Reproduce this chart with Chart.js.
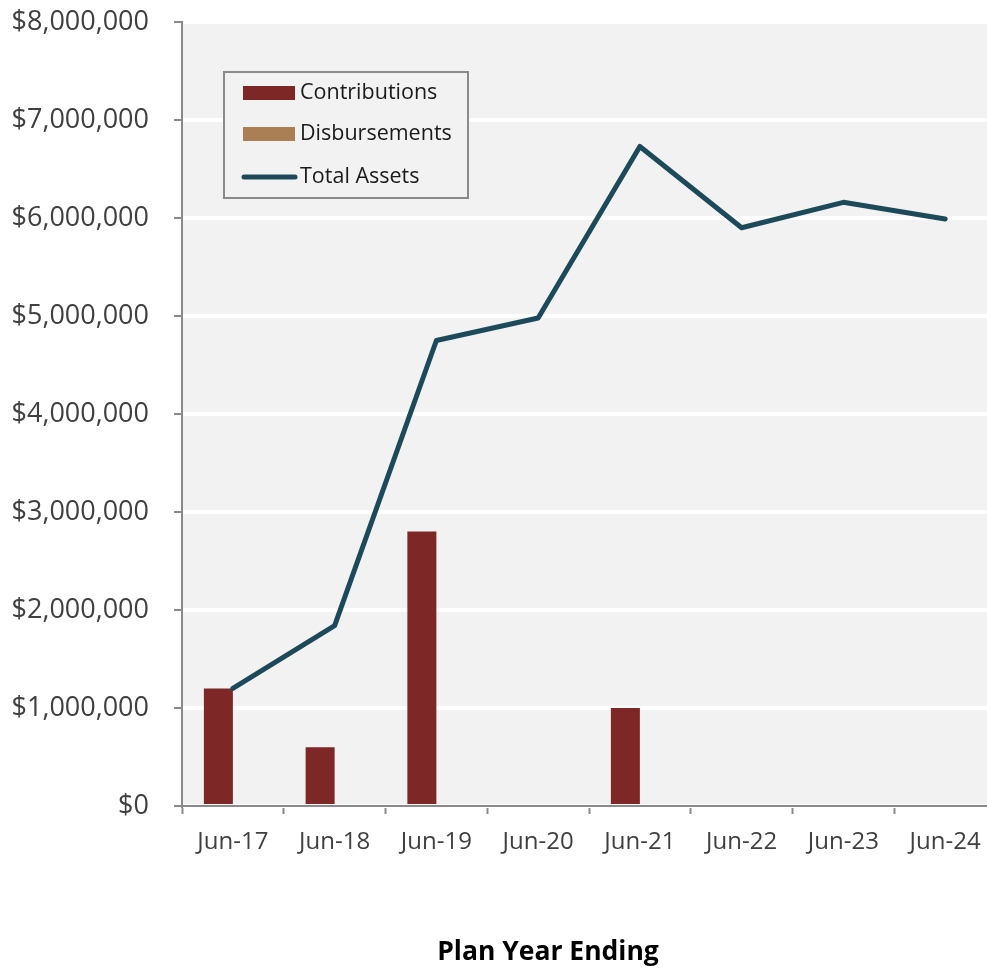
<!DOCTYPE html>
<html>
<head>
<meta charset="utf-8">
<script src="https://cdn.jsdelivr.net/npm/chart.js@4"></script>
<style>
  html, body { margin: 0; padding: 0; background: #ffffff; overflow: hidden; }
  #wrap { width: 1000px; height: 968px; }
</style>
</head>
<body>
<div id="wrap"><canvas id="chart" width="1000" height="968"></canvas></div>
<script>
// Plan year labels
const categories = ['Jun-17', 'Jun-18', 'Jun-19', 'Jun-20', 'Jun-21', 'Jun-22', 'Jun-23', 'Jun-24'];

// Yearly flows and year-end assets (USD)
const contributions = [1200000, 600000, 2800000, 0, 1000000, 0, 0, 0];
const disbursements = [0, 0, 0, 0, 0, 0, 0, 0];
const totalAssets   = [1200000, 1840000, 4750000, 4980000, 6730000, 5900000, 6160000, 5990000];

// Value axis range
const yMin = 0;
const yMax = 8000000;
const yStep = 1000000;

const axisTitle = 'Plan Year Ending';

const FONT = '"Open Sans", "Noto Sans", sans-serif';
const AXIS_GRAY = '#8a8a8a';

function money(v) {
  return '$' + Math.round(v).toLocaleString('en-US');
}

// Fills the plotting area with the light gray panel colour
const panelBackground = {
  id: 'panelBackground',
  beforeDraw(chart) {
    const { ctx, chartArea: a } = chart;
    ctx.save();
    ctx.fillStyle = '#f2f2f2';
    ctx.fillRect(a.left, a.top, a.right - a.left, a.bottom - a.top);
    ctx.restore();
  }
};

// Boxed legend inside the plotting area, plus the bold axis caption below
const boxedLegend = {
  id: 'boxedLegend',
  afterDraw(chart) {
    const { ctx, chartArea: a } = chart;
    const ds = chart.data.datasets;
    const x0 = a.left + 42, y0 = a.top + 50, w = 244, h = 126;
    ctx.save();
    ctx.fillStyle = '#f2f2f2';
    ctx.fillRect(x0, y0, w, h);
    ctx.strokeStyle = '#8a8a8a';
    ctx.lineWidth = 2;
    ctx.strokeRect(x0, y0, w, h);

    ctx.font = '21.5px ' + FONT;
    ctx.textBaseline = 'middle';
    ctx.textAlign = 'left';
    const rows = [y0 + 21, y0 + 62, y0 + 105];
    ds.forEach((d, i) => {
      const cy = rows[i];
      if (d.type === 'line') {
        ctx.strokeStyle = d.borderColor;
        ctx.lineWidth = 5;
        ctx.lineCap = 'round';
        ctx.beginPath();
        ctx.moveTo(x0 + 20, cy);
        ctx.lineTo(x0 + 71, cy);
        ctx.stroke();
      } else {
        ctx.fillStyle = d.backgroundColor;
        ctx.fillRect(x0 + 19, cy - 7, 52, 14);
      }
      ctx.fillStyle = '#1a1a1a';
      ctx.fillText(d.label, x0 + 76, cy);
    });

    ctx.font = 'bold 26.5px ' + FONT;
    ctx.fillStyle = '#000000';
    ctx.textAlign = 'center';
    ctx.textBaseline = 'middle';
    ctx.fillText(axisTitle, a.left + 366, a.bottom + 146);
    ctx.restore();
  }
};

new Chart(document.getElementById('chart'), {
  data: {
    labels: categories,
    datasets: [
      {
        type: 'bar',
        label: 'Contributions',
        data: contributions,
        backgroundColor: '#7d2727',
        borderWidth: 0,
        categoryPercentage: 0.57,
        barPercentage: 1.0,
        order: 2
      },
      {
        type: 'bar',
        label: 'Disbursements',
        data: disbursements,
        backgroundColor: '#ab7f55',
        borderWidth: 0,
        categoryPercentage: 0.57,
        barPercentage: 1.0,
        order: 2
      },
      {
        type: 'line',
        label: 'Total Assets',
        data: totalAssets,
        borderColor: '#1d4a5a',
        backgroundColor: '#1d4a5a',
        borderWidth: 5,
        borderCapStyle: 'round',
        borderJoinStyle: 'round',
        pointRadius: 0,
        tension: 0,
        fill: false,
        order: 1
      }
    ]
  },
  options: {
    responsive: false,
    animation: false,
    layout: { padding: { top: 22, right: 4, left: 0, bottom: 0 } },
    plugins: {
      legend: { display: false },
      tooltip: { enabled: false },
      title: { display: false }
    },
    scales: {
      x: {
        offset: true,
        grid: {
          offset: true,
          drawOnChartArea: false,
          drawTicks: true,
          tickLength: 8,
          tickColor: AXIS_GRAY,
          tickWidth: 2,
          color: AXIS_GRAY
        },
        border: { display: true, color: AXIS_GRAY, width: 2 },
        ticks: {
          color: '#404040',
          font: { family: FONT, size: 24 },
          padding: 14,
          maxRotation: 0,
          autoSkip: false
        },
        afterFit(scale) { scale.height = 162; }
      },
      y: {
        min: yMin,
        max: yMax,
        grid: {
          color: '#ffffff',
          lineWidth: 4,
          drawTicks: true,
          tickLength: 8,
          tickColor: AXIS_GRAY,
          tickWidth: 2
        },
        border: { display: true, color: AXIS_GRAY, width: 2 },
        ticks: {
          stepSize: yStep,
          color: '#404040',
          font: { family: FONT, size: 27 },
          padding: 25,
          callback: (v) => money(v)
        },
        afterFit(scale) {
          scale.width = 182;
          scale.paddingTop = 0;
          scale.paddingBottom = 0;
        }
      }
    }
  },
  plugins: [panelBackground, boxedLegend]
});
</script>
</body>
</html>
